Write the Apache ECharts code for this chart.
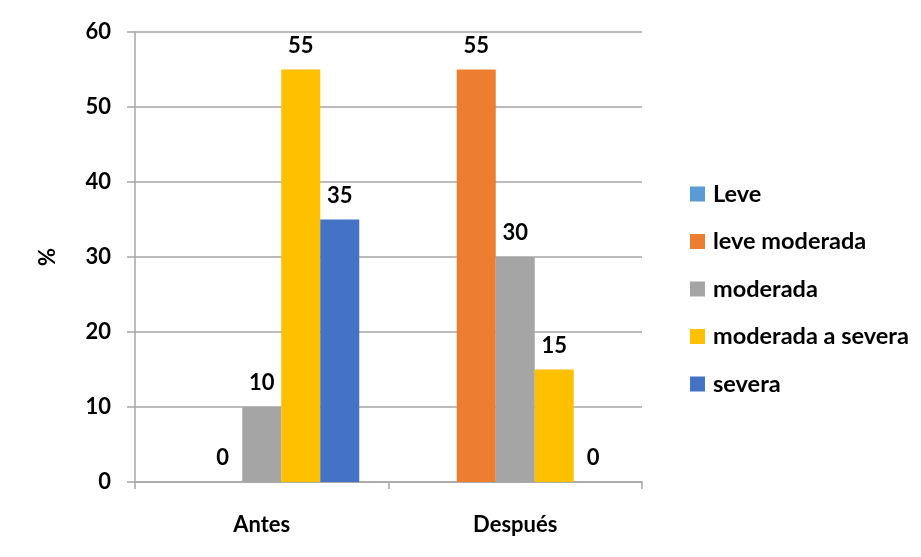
<!DOCTYPE html>
<html>
<head>
<meta charset="utf-8">
<script src="https://cdn.jsdelivr.net/npm/echarts@6/dist/echarts.min.js"></script>
<style>
  html, body { margin: 0; padding: 0; background: #fff; }
  #chart { width: 921px; height: 557px; }
</style>
</head>
<body>
<div id="chart"></div>
<script>
// data
const categories = ['Antes', 'Después'];
const seriesNames = ['Leve', 'leve moderada', 'moderada', 'moderada a severa', 'severa'];
const leve = ['-', '-'];
const leveModerada = [0, 55];
const moderada = [10, 30];
const moderadaSevera = [55, 15];
const severa = [35, 0];
const yTicks = [0, 10, 20, 30, 40, 50, 60];

const colors = ['#5B9BD5', '#ED7D31', '#A5A5A5', '#FFC000', '#4472C4'];
const values = [leve, leveModerada, moderada, moderadaSevera, severa];
const font = 'Lato, "Open Sans", sans-serif';
const fs = 22;

const chart = echarts.init(document.getElementById('chart'));
chart.setOption({
  backgroundColor: '#fff',
  animation: false,
  textStyle: { fontFamily: font, fontWeight: 'bold', color: '#000' },
  grid: { left: 135, right: 279, top: 32, bottom: 75 },
  legend: {
    orient: 'vertical',
    left: 685,
    top: 177,
    itemWidth: 15,
    itemHeight: 15,
    itemGap: 23.5,
    icon: 'rect',
    textStyle: { fontSize: 23.5, lineHeight: 24, fontWeight: 'bold', fontFamily: font, color: '#000', padding: [0, 0, 0, 3] },
    data: seriesNames
  },
  xAxis: {
    type: 'category',
    data: categories,
    axisLine: { lineStyle: { color: '#a6a6a6', width: 1.5 } },
    axisTick: { show: true, length: 7, lineStyle: { color: '#a6a6a6', width: 1.5 } },
    axisLabel: { margin: 32, fontSize: fs, fontWeight: 'bold', fontFamily: font, color: '#000' }
  },
  yAxis: {
    type: 'value',
    min: yTicks[0],
    max: yTicks[yTicks.length - 1],
    interval: 10,
    name: '%',
    nameLocation: 'middle',
    nameGap: 76,
    nameTextStyle: { fontSize: fs, fontWeight: 'bold', fontFamily: font, color: '#000' },
    axisLine: { show: true, lineStyle: { color: '#a6a6a6', width: 1.5 } },
    axisTick: { show: true, inside: false, length: 8, lineStyle: { color: '#a6a6a6', width: 1.5 } },
    axisLabel: { margin: 24, fontSize: fs, fontWeight: 'bold', fontFamily: font, color: '#000' },
    splitLine: { lineStyle: { color: '#a6a6a6', width: 1.5 } }
  },
  series: seriesNames.map((name, i) => ({
    name: name,
    type: 'bar',
    data: values[i],
    barWidth: 39,
    barGap: '0%',
    itemStyle: { color: colors[i] },
    label: {
      show: true,
      position: 'top',
      distance: 13,
      fontSize: fs,
      fontWeight: 'bold',
      fontFamily: font,
      color: '#000'
    }
  }))
});
</script>
</body>
</html>
